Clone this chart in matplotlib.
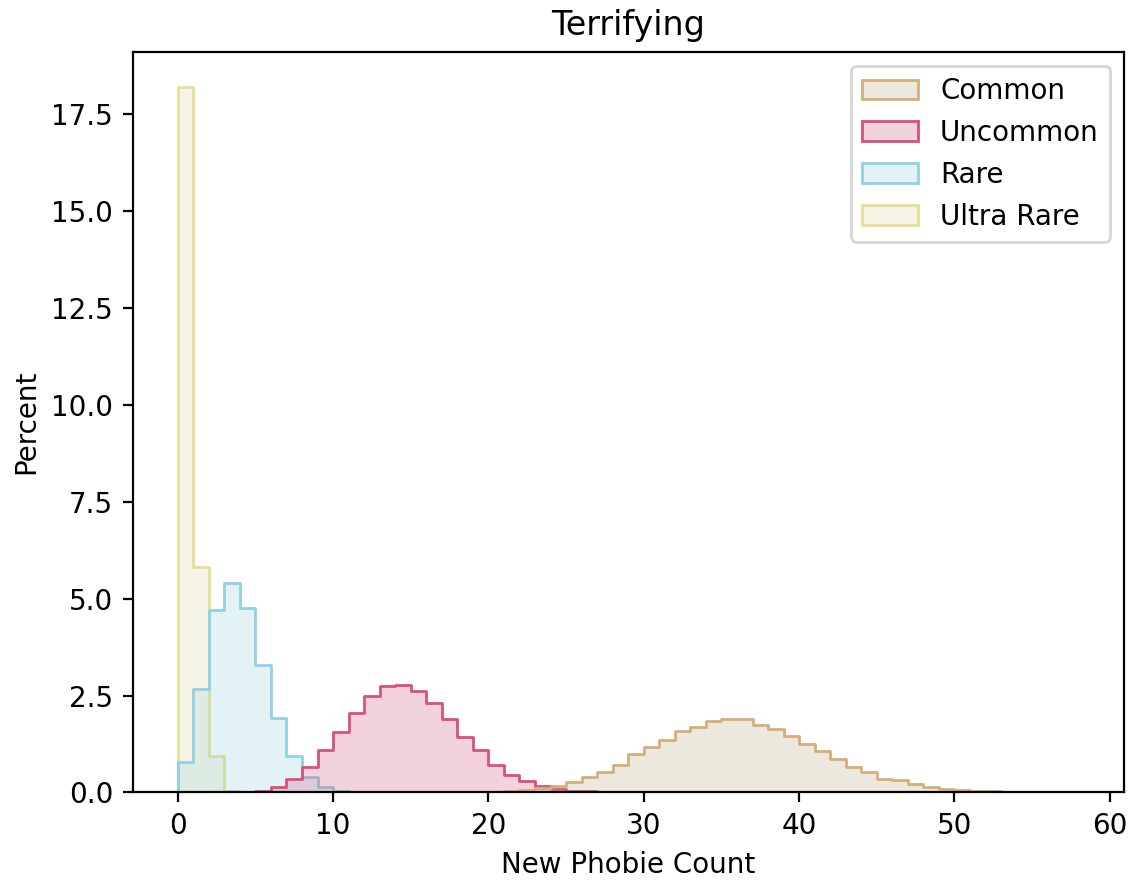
import numpy as np
import matplotlib
matplotlib.use("Agg")
from matplotlib import pyplot as plt
from matplotlib.patches import Patch
from matplotlib.colors import to_rgba

# percent per unit-wide bin (bins start at the given value)
common_start = 20
common = [0.02, 0.03, 0.06, 0.12, 0.18, 0.27, 0.40, 0.53, 0.72, 1.00,
          1.17, 1.36, 1.58, 1.69, 1.84, 1.90, 1.90, 1.73, 1.65, 1.45,
          1.24, 1.07, 0.87, 0.67, 0.52, 0.35, 0.31, 0.21, 0.14, 0.10,
          0.06, 0.05, 0.04, 0.02, 0.02, 0.02, 0.02, 0.02]
uncommon_start = 4
uncommon = [0.02, 0.05, 0.14, 0.35, 0.65, 1.09, 1.56, 2.06, 2.49, 2.74,
            2.78, 2.61, 2.32, 1.89, 1.43, 1.09, 0.70, 0.44, 0.29, 0.18,
            0.10, 0.05, 0.03, 0.02]
rare_start = 0
rare = [0.78, 2.68, 4.70, 5.41, 4.75, 3.30, 1.92, 0.93, 0.40, 0.14, 0.05, 0.02]
ultra_start = 0
ultra = [18.2, 5.82, 0.94, 0.03]

labels = ["Common", "Uncommon", "Rare", "Ultra Rare"]
edge_colors = ["#d6ae7b", "#d9507f", "#92d0e4", "#e6df98"]
fill_colors = ["#bba77f", "#cf537b", "#93d3db", "#e3d7a3"]
series = [(common_start, common), (uncommon_start, uncommon),
          (rare_start, rare), (ultra_start, ultra)]

fig = plt.figure(figsize=(5.67, 4.41), dpi=200)
ax = fig.add_axes([0.117, 0.1015, 0.874, 0.8395])

# draw last level first so the first one ends on top (like seaborn layering)
for (start, vals), ec, fc in reversed(list(zip(series, edge_colors, fill_colors))):
    vals = np.array(vals)
    edges = start + np.arange(len(vals) + 1)
    heights = np.append(vals, vals[-1])
    ax.fill_between(edges, 0, heights, step="post",
                    facecolor=to_rgba(fc, 0.25), edgecolor=ec, linewidth=1)

ax.set_xlim(-2.9, 60.9)
ax.set_ylim(0, 18.2 * 1.05)
ax.set_title("Terrifying")
ax.set_xlabel("New Phobie Count")
ax.set_ylabel("Percent")

handles = [Patch(facecolor=to_rgba(fc, 0.25), edgecolor=ec, linewidth=1)
           for ec, fc in zip(edge_colors, fill_colors)]
ax.legend(handles, labels, loc="upper right")

fig.savefig("out.png", dpi=200)
